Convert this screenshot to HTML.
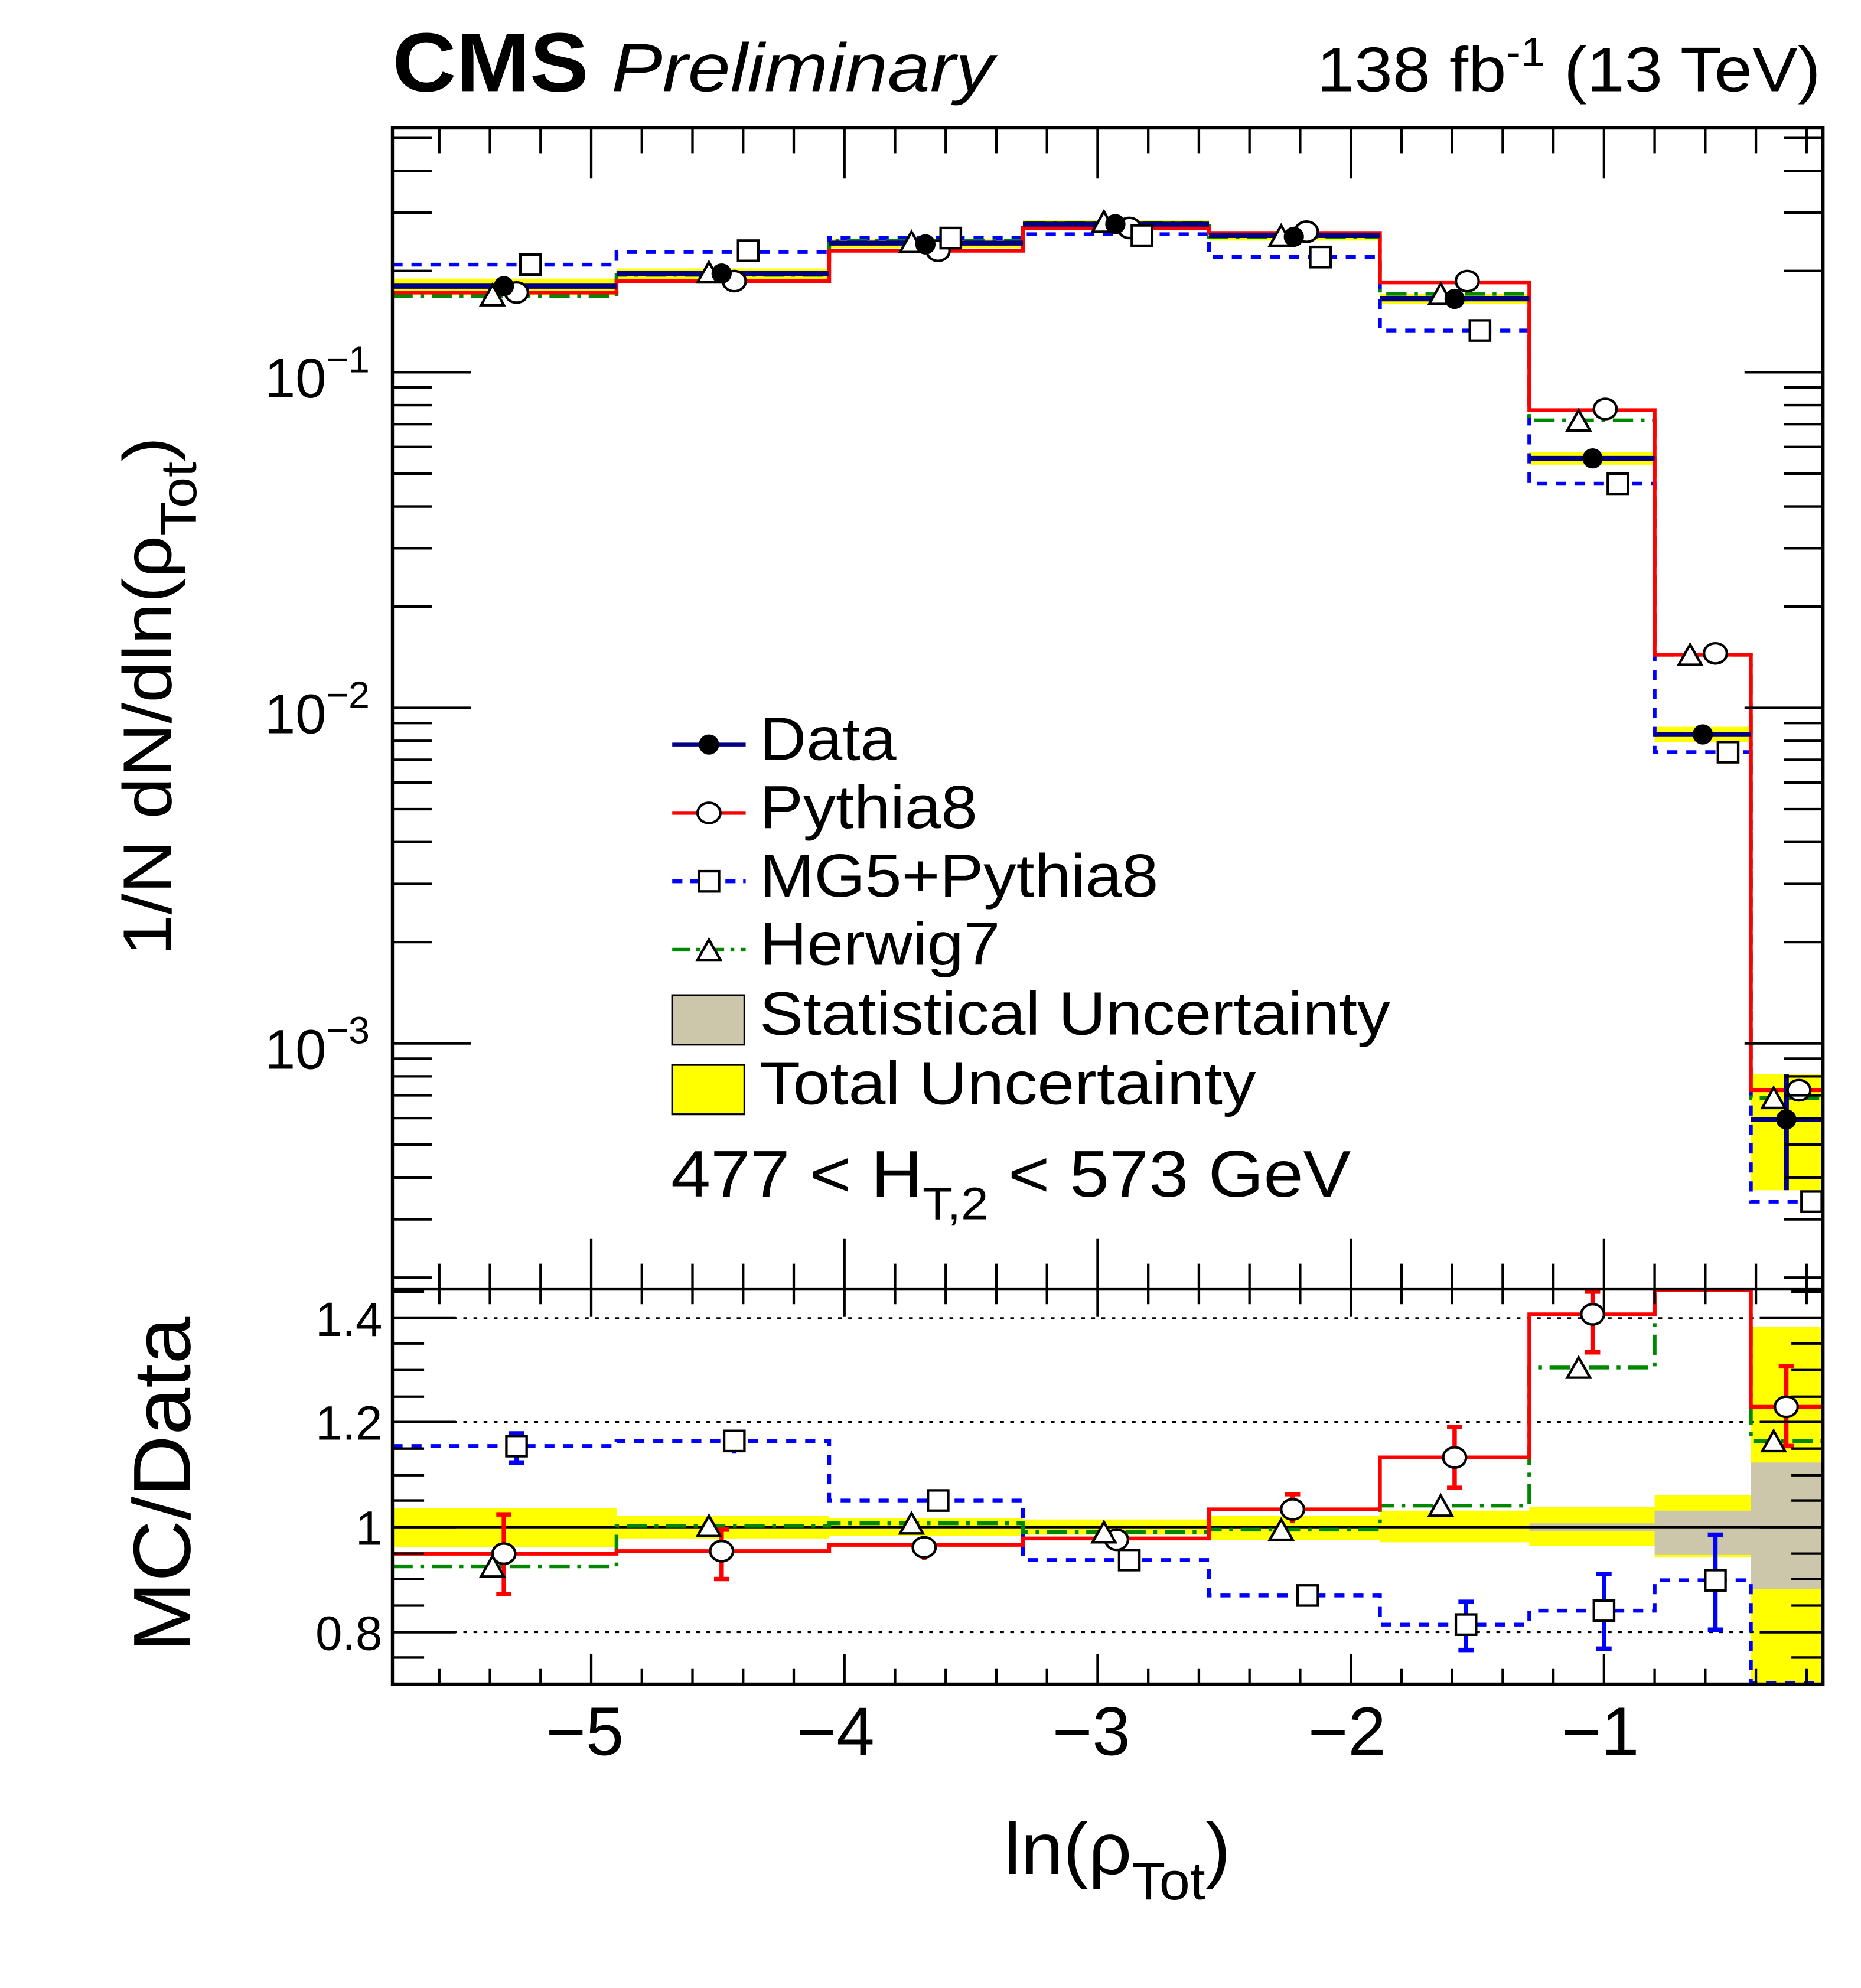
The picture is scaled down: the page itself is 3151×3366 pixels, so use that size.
<!DOCTYPE html>
<html><head><meta charset="utf-8"><style>
html,body{margin:0;padding:0;background:#fff;}
svg{display:block;}
text{font-family:"Liberation Sans",sans-serif;fill:#000;}
</style></head><body>
<svg width="3151" height="3366" viewBox="0 0 1470 1570" preserveAspectRatio="none" xmlns="http://www.w3.org/2000/svg">
<defs>
<clipPath id="up"><rect x="310" y="101" width="1130" height="917"/></clipPath>
<clipPath id="lo"><rect x="310" y="1018" width="1130" height="312"/></clipPath>
</defs>

<g clip-path="url(#up)">
<g fill="#ffff00">
<rect x="310" y="220" width="177" height="13"/>
<rect x="487" y="212" width="168" height="9"/>
<rect x="655" y="189" width="153" height="7"/>
<rect x="808" y="174" width="147" height="6"/>
<rect x="955" y="183" width="135" height="7"/>
<rect x="1090" y="232" width="118" height="8"/>
<rect x="1208" y="357" width="99" height="10"/>
<rect x="1307" y="574" width="76" height="12"/>
<rect x="1383" y="848" width="57" height="92"/>
</g>
<path d="M310,209 H487 V199 H655 V188 H808 V185 H955 V203 H1090 V261 H1208 V382 H1307 V594 H1383 V949 H1440" fill="none" stroke="#0000ff" stroke-width="3" stroke-dasharray="8,7"/>
<path d="M310,234 H487 V217 H655 V190 H808 V176 H955 V187 H1090 V232 H1208 V332 H1307 V517 H1383 V867 H1440" fill="none" stroke="#008800" stroke-width="3" stroke-dasharray="16,6,3,6"/>
<path d="M310,231 H487 V222 H655 V198 H808 V180 H955 V184 H1090 V223 H1208 V324 H1307 V517 H1383 V861 H1440" fill="none" stroke="#ff0000" stroke-width="3"/>
<g stroke="#000080" stroke-width="4" fill="none">
<path d="M310,226 H487 M487,216 H655 M655,192 H808 M808,177 H955 M955,186 H1090 M1090,236 H1208 M1208,362 H1307 M1307,580 H1383 M1383,884 H1440"/>
<path d="M1411,848 V940"/>
</g>
<g fill="#fff" stroke="#000" stroke-width="2">
<ellipse cx="408" cy="231" rx="9" ry="8"/><ellipse cx="580" cy="222" rx="9" ry="8"/><ellipse cx="741" cy="198" rx="9" ry="8"/><ellipse cx="892" cy="180" rx="9" ry="8"/><ellipse cx="1032" cy="183" rx="9" ry="8"/><ellipse cx="1159" cy="222" rx="9" ry="8"/><ellipse cx="1268" cy="323" rx="9" ry="8"/><ellipse cx="1355" cy="516" rx="9" ry="8"/><ellipse cx="1421" cy="861" rx="9" ry="8"/>
<rect x="411" y="201" width="16" height="16"/><rect x="583" y="190" width="16" height="16"/><rect x="743" y="180" width="16" height="16"/><rect x="894" y="178" width="16" height="16"/><rect x="1035" y="195" width="16" height="16"/><rect x="1161" y="253" width="16" height="16"/><rect x="1270" y="374" width="16" height="16"/><rect x="1357" y="586" width="16" height="16"/><rect x="1423" y="941" width="16" height="16"/>
<path d="M380,241 L389,225 L398,241 Z M551,223 L560,207 L569,223 Z M711,199 L720,183 L729,199 Z M863,183 L872,167 L881,183 Z M1003,194 L1012,178 L1021,194 Z M1129,240 L1138,224 L1147,240 Z M1238,340 L1247,324 L1256,340 Z M1326,525 L1335,509 L1344,525 Z M1392,875 L1401,859 L1410,875 Z"/>
</g>
<g fill="#000">
<circle cx="398" cy="226" r="8"/><circle cx="570" cy="216" r="8"/><circle cx="731" cy="193" r="8"/><circle cx="881" cy="177" r="8"/><circle cx="1022" cy="187" r="8"/><circle cx="1149" cy="236" r="8"/><circle cx="1258" cy="362" r="8"/><circle cx="1345" cy="580" r="8"/><circle cx="1411" cy="884" r="8"/>
</g>
</g>

<g clip-path="url(#lo)">
<g fill="#ffff00">
<rect x="310" y="1191" width="177" height="31"/>
<rect x="487" y="1197" width="168" height="18"/>
<rect x="655" y="1199" width="153" height="14"/>
<rect x="808" y="1200" width="147" height="12"/>
<rect x="955" y="1197" width="135" height="19"/>
<rect x="1090" y="1193" width="118" height="25"/>
<rect x="1208" y="1190" width="99" height="31"/>
<rect x="1307" y="1181" width="76" height="49"/>
<rect x="1383" y="1048" width="57" height="282"/>
</g>
<g fill="#ccc6aa">
<rect x="1208" y="1203" width="99" height="6"/>
<rect x="1307" y="1193" width="76" height="35"/>
<rect x="1383" y="1155" width="57" height="100"/>
</g>
<g stroke="#000" stroke-width="1.5" stroke-dasharray="3,5">
<path d="M310,1041 H1440 M310,1123 H1440 M310,1289 H1440"/>
</g>
<path d="M310,1206 H1440" stroke="#000" stroke-width="2"/>
<path d="M310,1142 H487 V1138 H655 V1185 H808 V1232 H955 V1260 H1090 V1283 H1208 V1272 H1307 V1248 H1383 V1329 H1440" fill="none" stroke="#0000ff" stroke-width="3" stroke-dasharray="8,7"/>
<path d="M310,1237 H487 V1205 H655 V1203 H808 V1210 H955 V1208 H1090 V1189 H1208 V1080 H1307 V1019 H1383 V1138 H1440" fill="none" stroke="#008800" stroke-width="3" stroke-dasharray="16,6,3,6"/>
<path d="M310,1227 H487 V1225 H655 V1220 H808 V1215 H955 V1192 H1090 V1151 H1208 V1038 H1307 V1019 H1383 V1111 H1440" fill="none" stroke="#ff0000" stroke-width="3"/>
<g stroke="#ff0000" stroke-width="3.5">
<path d="M398,1196 V1259 M392,1196 H404 M392,1259 H404 M570,1208 V1247 M564,1208 H576 M564,1247 H576 M730,1213 V1232 M1021,1180 V1203 M1015,1180 H1027 M1149,1127 V1175 M1143,1127 H1155 M1143,1175 H1155 M1258,1020 V1068 M1252,1020 H1264 M1252,1068 H1264 M1411,1079 V1142 M1405,1079 H1417 M1405,1142 H1417"/>
</g>
<g stroke="#0000ff" stroke-width="3.5">
<path d="M408,1132 V1155 M402,1132 H414 M402,1155 H414 M580,1131 V1148 M1158,1265 V1303 M1152,1265 H1164 M1152,1303 H1164 M1267,1243 V1302 M1261,1243 H1273 M1261,1302 H1273 M1355,1212 V1287 M1349,1212 H1361 M1349,1287 H1361 M1033,1253 V1268"/>
</g>
<g fill="#fff" stroke="#000" stroke-width="2">
<ellipse cx="398" cy="1227" rx="9" ry="8"/><ellipse cx="570" cy="1225" rx="9" ry="8"/><ellipse cx="730" cy="1222" rx="9" ry="8"/><ellipse cx="882" cy="1216" rx="9" ry="8"/><ellipse cx="1021" cy="1192" rx="9" ry="8"/><ellipse cx="1149" cy="1151" rx="9" ry="8"/><ellipse cx="1258" cy="1038" rx="9" ry="8"/><ellipse cx="1411" cy="1111" rx="9" ry="8"/>
<rect x="400" y="1134" width="16" height="16"/><rect x="572" y="1130" width="16" height="16"/><rect x="733" y="1177" width="16" height="16"/><rect x="884" y="1224" width="16" height="16"/><rect x="1025" y="1252" width="16" height="16"/><rect x="1150" y="1275" width="16" height="16"/><rect x="1259" y="1264" width="16" height="16"/><rect x="1347" y="1240" width="16" height="16"/>
<path d="M380,1245 L389,1229 L398,1245 Z M551,1213 L560,1197 L569,1213 Z M711,1211 L720,1195 L729,1211 Z M863,1218 L872,1202 L881,1218 Z M1003,1216 L1012,1200 L1021,1216 Z M1129,1197 L1138,1181 L1147,1197 Z M1238,1088 L1247,1072 L1256,1088 Z M1392,1146 L1401,1130 L1410,1146 Z"/>
</g>
</g>

<g stroke="#000" stroke-width="2.5" fill="none">
<rect x="310" y="101" width="1130" height="1229"/>
<path d="M310,1018 H1440"/>
</g>
<g stroke="#000" stroke-width="2" fill="none">
<path d="M310,294 h62 M310,559 h62 M310,824 h62 M1440,294 h-62 M1440,559 h-62 M1440,824 h-62"/>
<path d="M310,109h31M310,135h31M310,168h31M310,214h31M310,306h31M310,320h31M310,335h31M310,353h31M310,374h31M310,400h31M310,433h31M310,479h31M310,571h31M310,585h31M310,600h31M310,618h31M310,639h31M310,665h31M310,698h31M310,744h31M310,836h31M310,850h31M310,865h31M310,883h31M310,904h31M310,930h31M310,963h31M310,1009h31"/>
<path d="M1440,109h-31M1440,135h-31M1440,168h-31M1440,214h-31M1440,306h-31M1440,320h-31M1440,335h-31M1440,353h-31M1440,374h-31M1440,400h-31M1440,433h-31M1440,479h-31M1440,571h-31M1440,585h-31M1440,600h-31M1440,618h-31M1440,639h-31M1440,665h-31M1440,698h-31M1440,744h-31M1440,836h-31M1440,850h-31M1440,865h-31M1440,883h-31M1440,904h-31M1440,930h-31M1440,963h-31M1440,1009h-31"/>
<path d="M467,101v40M667,101v40M867,101v40M1067,101v40M1267,101v40 M467,1018v-40M667,1018v-40M867,1018v-40M1067,1018v-40M1267,1018v-40"/>
<path d="M347,101v20M387,101v20M427,101v20M507,101v20M547,101v20M587,101v20M627,101v20M707,101v20M747,101v20M787,101v20M827,101v20M907,101v20M947,101v20M987,101v20M1027,101v20M1107,101v20M1147,101v20M1187,101v20M1227,101v20M1307,101v20M1347,101v20M1387,101v20M1427,101v20"/>
<path d="M347,1018v-20M387,1018v-20M427,1018v-20M507,1018v-20M547,1018v-20M587,1018v-20M627,1018v-20M707,1018v-20M747,1018v-20M787,1018v-20M827,1018v-20M907,1018v-20M947,1018v-20M987,1018v-20M1027,1018v-20M1107,1018v-20M1147,1018v-20M1187,1018v-20M1227,1018v-20M1307,1018v-20M1347,1018v-20M1387,1018v-20M1427,1018v-20"/>
<path d="M467,1018v22M667,1018v22M867,1018v22M1067,1018v22M1267,1018v22 M467,1330v-24M667,1330v-24M867,1330v-24M1067,1330v-24M1267,1330v-24"/>
<path d="M347,1018v12M387,1018v12M427,1018v12M507,1018v12M547,1018v12M587,1018v12M627,1018v12M707,1018v12M747,1018v12M787,1018v12M827,1018v12M907,1018v12M947,1018v12M987,1018v12M1027,1018v12M1107,1018v12M1147,1018v12M1187,1018v12M1227,1018v12M1307,1018v12M1347,1018v12M1387,1018v12M1427,1018v12"/>
<path d="M347,1330v-12M387,1330v-12M427,1330v-12M507,1330v-12M547,1330v-12M587,1330v-12M627,1330v-12M707,1330v-12M747,1330v-12M787,1330v-12M827,1330v-12M907,1330v-12M947,1330v-12M987,1330v-12M1027,1330v-12M1107,1330v-12M1147,1330v-12M1187,1330v-12M1227,1330v-12M1307,1330v-12M1347,1330v-12M1387,1330v-12M1427,1330v-12"/>
<path d="M310,1041h50M310,1123h50M310,1206h50M310,1289h50M1440,1041h-50M1440,1123h-50M1440,1206h-50M1440,1289h-50"/>
<path d="M310,1020h25M310,1061h25M310,1082h25M310,1103h25M310,1144h25M310,1165h25M310,1185h25M310,1227h25M310,1247h25M310,1268h25M310,1309h25"/>
<path d="M1440,1020h-25M1440,1061h-25M1440,1082h-25M1440,1103h-25M1440,1144h-25M1440,1165h-25M1440,1185h-25M1440,1227h-25M1440,1247h-25M1440,1268h-25M1440,1309h-25"/>
</g>

<text x="310" y="72" font-size="66" font-weight="bold" textLength="155" lengthAdjust="spacingAndGlyphs">CMS</text>
<text x="483" y="72" font-size="54" font-style="italic" textLength="302" lengthAdjust="spacingAndGlyphs">Preliminary</text>
<text x="1040" y="72" font-size="50" textLength="398" lengthAdjust="spacingAndGlyphs">138 fb<tspan dy="-20" font-size="32">-1</tspan><tspan dy="20"> (13 TeV)</tspan></text>

<g font-size="44" text-anchor="end">
<text x="292" y="314">10<tspan dy="-20" font-size="30">−1</tspan></text>
<text x="292" y="579">10<tspan dy="-20" font-size="30">−2</tspan></text>
<text x="292" y="844">10<tspan dy="-20" font-size="30">−3</tspan></text>
</g>
<g font-size="38" text-anchor="end">
<text x="302" y="1055">1.4</text>
<text x="302" y="1137">1.2</text>
<text x="302" y="1220">1</text>
<text x="302" y="1303">0.8</text>
</g>
<g font-size="54" text-anchor="middle">
<text x="462" y="1386">−5</text>
<text x="660" y="1386">−4</text>
<text x="862" y="1386">−3</text>
<text x="1064" y="1386">−2</text>
<text x="1264" y="1386">−1</text>
</g>
<text x="793" y="1480" font-size="58" textLength="179" lengthAdjust="spacingAndGlyphs">ln(ρ<tspan dy="20" font-size="42">Tot</tspan><tspan dy="-20">)</tspan></text>

<text transform="translate(135,755) rotate(-90)" font-size="54" textLength="410" lengthAdjust="spacingAndGlyphs">1/N dN/dln(ρ<tspan dy="20" font-size="40">Tot</tspan><tspan dy="-20">)</tspan></text>
<text transform="translate(150,1305) rotate(-90)" font-size="64" textLength="265" lengthAdjust="spacingAndGlyphs">MC/Data</text>

<g stroke-width="3" fill="none">
<path d="M531,588 h58" stroke="#000080"/>
<path d="M531,642 h58" stroke="#ff0000"/>
<path d="M531,696 h58" stroke="#0000ff" stroke-dasharray="8,6"/>
<path d="M531,750 h58" stroke="#008800" stroke-dasharray="14,5,3,5"/>
</g>
<circle cx="560" cy="588" r="8" fill="#000"/>
<ellipse cx="560" cy="642" rx="9" ry="8" fill="#fff" stroke="#000" stroke-width="2"/>
<rect x="552" y="688" width="16" height="16" fill="#fff" stroke="#000" stroke-width="2"/>
<path d="M551,758 L560,742 L569,758 Z" fill="#fff" stroke="#000" stroke-width="2"/>
<rect x="531" y="786" width="57" height="39" fill="#ccc6aa" stroke="#000" stroke-width="1.5"/>
<rect x="531" y="841" width="57" height="39" fill="#ffff00" stroke="#000" stroke-width="1.5"/>
<g font-size="48" lengthAdjust="spacingAndGlyphs">
<text x="600" y="600" textLength="108" lengthAdjust="spacingAndGlyphs">Data</text>
<text x="600" y="654" textLength="172" lengthAdjust="spacingAndGlyphs">Pythia8</text>
<text x="600" y="708" textLength="315" lengthAdjust="spacingAndGlyphs">MG5+Pythia8</text>
<text x="600" y="762" textLength="190" lengthAdjust="spacingAndGlyphs">Herwig7</text>
<text x="600" y="817" textLength="498" lengthAdjust="spacingAndGlyphs">Statistical Uncertainty</text>
<text x="600" y="872" textLength="392" lengthAdjust="spacingAndGlyphs">Total Uncertainty</text>
</g>
<text x="530" y="945" font-size="52" textLength="537" lengthAdjust="spacingAndGlyphs">477 &lt; H<tspan dy="18" font-size="36">T,2</tspan><tspan dy="-18"> &lt; 573 GeV</tspan></text>
</svg>
</body></html>
